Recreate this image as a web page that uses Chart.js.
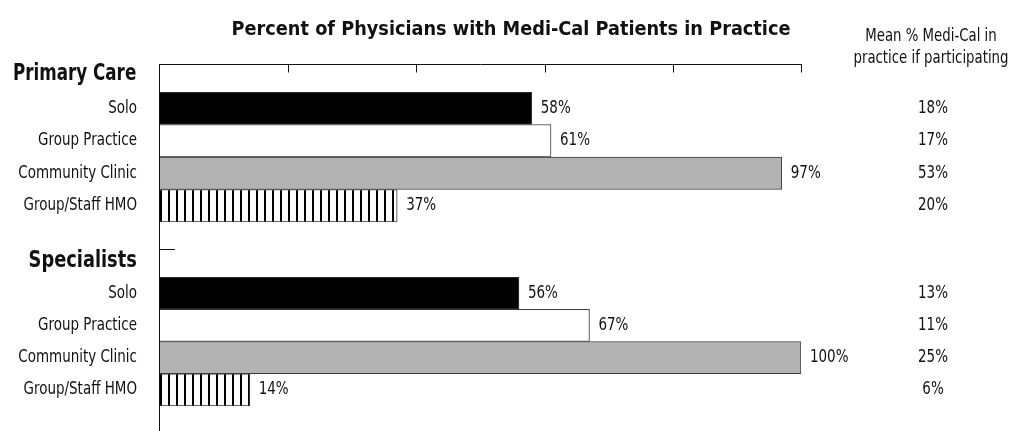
<!DOCTYPE html>
<html>
<head>
<meta charset="utf-8">
<script src="https://cdn.jsdelivr.net/npm/chart.js@4"></script>
<style>
  body { margin: 0; background: #fff; }
  #wrap { position: relative; width: 1011px; height: 431px; overflow: hidden; font-family: 'Liberation Sans Narrow', 'Arial Narrow', 'DejaVu Sans Condensed', sans-serif; color: #111; }
  canvas { position: absolute; left: 0; }
  .txt { position: absolute; white-space: nowrap; }
  #title { left: 0; width: 1022px; text-align: center; top: 15px; font-size: 20px; font-weight: bold; line-height: 26px; transform: scaleX(0.985); }
  #meanHead { left: 831px; width: 200px; text-align: center; top: 24px; font-size: 17px; line-height: 22px; transform: scaleX(0.87); transform-origin: 100px 0; }
  .grp { right: 874px; font-size: 23px; font-weight: bold; line-height: 28px; transform-origin: right center; }
</style>
</head>
<body>
<div id="wrap">
  <canvas id="pc" width="1011" height="234" style="top:0"></canvas>
  <canvas id="sp" width="1011" height="197" style="top:234px"></canvas>
  <div id="title" class="txt">Percent of Physicians with Medi-Cal Patients in Practice</div>
  <div id="meanHead" class="txt">Mean % Medi-Cal in<br>practice if participating</div>
  <div class="txt grp" style="top:58px; right:875px; transform:scaleX(0.81)">Primary Care</div>
  <div class="txt grp" style="top:245px; transform:scaleX(0.86)">Specialists</div>
</div>
<script>
const settings = ['Solo', 'Group Practice', 'Community Clinic', 'Group/Staff HMO'];
const primaryCarePct = [58, 61, 97, 37];
const specialistPct = [56, 67, 100, 14];
const primaryCareMean = [18, 17, 53, 20];
const specialistMean = [13, 11, 25, 6];
const xMin = 0, xMax = 100, xStep = 20;

const FONT = "'Liberation Sans Narrow', 'Arial Narrow', 'DejaVu Sans Condensed', sans-serif";
const NARROW = 0.88; // squeeze the condensed fallback font a bit more

// vertical stripes for the HMO bars
function stripes() {
    const c = document.createElement('canvas');
    c.width = 8; c.height = 8;
    const g = c.getContext('2d');
    g.fillStyle = '#fff';
    g.fillRect(0, 0, 8, 8);
    g.fillStyle = '#000';
    g.fillRect(0, 0, 2, 8);
    return g.createPattern(c, 'repeat');
}
const fills = ['#000000', '#ffffff', '#b3b3b3', stripes()];

function narrowText(ctx, text, x, y, align) {
    ctx.save();
    ctx.translate(x, y);
    ctx.scale(NARROW, 1);
    ctx.textAlign = align;
    ctx.fillText(text, 0, 0);
    ctx.restore();
}

const labelsPlugin = {
    id: 'barLabels',
    afterDatasetsDraw(chart, args, opts) {
        const ctx = chart.ctx;
        const meta = chart.getDatasetMeta(0);
        const yScale = chart.scales.y;
        ctx.save();
        ctx.font = '17px ' + FONT;
        ctx.fillStyle = '#111';
        ctx.textBaseline = 'middle';
        // category names, right aligned against the axis
        yScale.ticks.forEach((t, i) => {
            narrowText(ctx, chart.data.labels[i], yScale.right - 23, yScale.getPixelForTick(i), 'right');
        });
        meta.data.forEach((bar, i) => {
            narrowText(ctx, chart.data.datasets[0].data[i] + '%', bar.x + 9, bar.y, 'left');
            narrowText(ctx, opts.means[i] + '%', 933, bar.y, 'center');
        });
        ctx.restore();
    }
};

const axesPlugin = {
    id: 'axesLines',
    afterDraw(chart, args, opts) {
        const ctx = chart.ctx;
        const x = chart.scales.x;
        const left = x.getPixelForValue(xMin);
        ctx.save();
        ctx.strokeStyle = '#111';
        ctx.lineWidth = 1;
        ctx.beginPath();
        ctx.moveTo(left - 0.5, opts.ruleTop);
        ctx.lineTo(left - 0.5, chart.height);
        if (opts.topAxis) {
            const y = opts.topAxis + 0.5;
            ctx.moveTo(left - 1, y);
            ctx.lineTo(x.getPixelForValue(xMax) + 1, y);
            x.ticks.forEach(t => {
                if (t.value === xMin) return;
                const px = Math.round(x.getPixelForValue(t.value)) + 0.5;
                ctx.moveTo(px, y);
                ctx.lineTo(px, y + 8);
            });
        }
        if (opts.stub) {
            ctx.moveTo(left - 1, opts.stub + 0.5);
            ctx.lineTo(left + 15, opts.stub + 0.5);
        }
        ctx.stroke();
        ctx.restore();
    }
};

function makeChart(id, values, means, pad, axisOpts) {
    return new Chart(document.getElementById(id), {
        type: 'bar',
        data: {
            labels: settings,
            datasets: [{
                data: values,
                backgroundColor: fills,
                borderColor: '#3a3a3a',
                borderWidth: { top: 1, right: 1, bottom: 1, left: 0 },
                borderSkipped: false,
                barPercentage: 1,
                categoryPercentage: 1,
            }],
        },
        options: {
            indexAxis: 'y',
            responsive: false,
            animation: false,
            layout: { padding: pad },
            plugins: {
                legend: { display: false },
                tooltip: { enabled: false },
                barLabels: { means: means },
                axesLines: axisOpts,
            },
            scales: {
                x: {
                    display: false,
                    min: xMin,
                    max: xMax,
                    ticks: { stepSize: xStep },
                },
                y: {
                    afterFit: (s) => {
                        s.width = 160;
                        s.paddingTop = 0;
                        s.paddingBottom = 0;
                    },
                    grid: { display: false, drawTicks: false },
                    border: { display: false },
                    ticks: { display: false },
                },
            },
        },
        plugins: [labelsPlugin, axesPlugin],
    });
}

makeChart('pc', primaryCarePct, primaryCareMean,
    { top: 92, bottom: 12, left: 0, right: 210 },
    { ruleTop: 64, topAxis: 64 });
makeChart('sp', specialistPct, specialistMean,
    { top: 43, bottom: 25, left: 0, right: 210 },
    { ruleTop: 0, stub: 15 });
</script>
</body>
</html>
